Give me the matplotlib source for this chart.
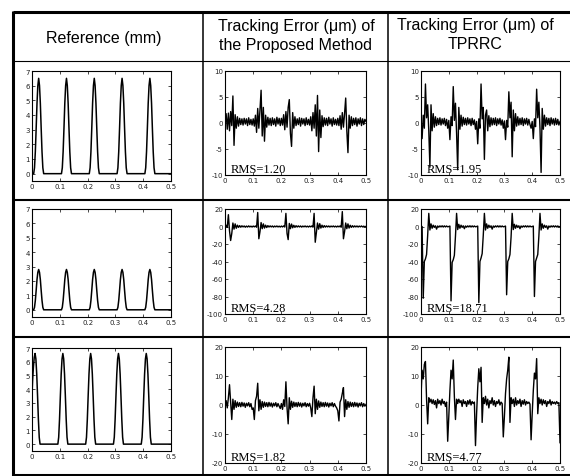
import numpy as np
import matplotlib.pyplot as plt
from matplotlib.lines import Line2D

plt.rcParams['axes.unicode_minus'] = False

# ---- data ----
headers = ['Reference (mm)',
           'Tracking Error (\u03bcm) of\nthe Proposed Method',
           'Tracking Error (\u03bcm) of\nTPRRC']

x_ticks = [0, 0.1, 0.2, 0.3, 0.4, 0.5]
x_tick_labels = ['0', '0.1', '0.2', '0.3', '0.4', '0.5']
ref_yticks = [0, 1, 2, 3, 4, 5, 6, 7]
err_yticks = [[-10, -5, 0, 5, 10],
              [-100, -80, -60, -40, -20, 0, 20],
              [-20, -10, 0, 10, 20]]
rms_proposed = ['1.20', '4.28', '1.82']
rms_tprrc = ['1.95', '18.71', '4.77']

# reference trajectories (time, mm)
ref_t_1 = [0.000, 0.006, 0.009, 0.012, 0.015, 0.018, 0.021, 0.024, 0.027, 0.030, 0.033, 0.036, 0.039, 0.042,
           0.106, 0.109, 0.112, 0.115, 0.118, 0.121, 0.124, 0.127, 0.130, 0.133, 0.136, 0.139, 0.142,
           0.206, 0.209, 0.212, 0.215, 0.218, 0.221, 0.224, 0.227, 0.230, 0.233, 0.236, 0.239, 0.242,
           0.306, 0.309, 0.312, 0.315, 0.318, 0.321, 0.324, 0.327, 0.330, 0.333, 0.336, 0.339, 0.342,
           0.406, 0.409, 0.412, 0.415, 0.418, 0.421, 0.424, 0.427, 0.430, 0.433, 0.436, 0.439, 0.442, 0.500]
ref_v_1 = [0.0, 0.0, 0.4, 1.5, 3.1, 4.8, 6.0, 6.5, 6.0, 4.8, 3.1, 1.5, 0.4, 0.0,
           0.0, 0.4, 1.5, 3.1, 4.8, 6.0, 6.5, 6.0, 4.8, 3.1, 1.5, 0.4, 0.0,
           0.0, 0.4, 1.5, 3.1, 4.8, 6.0, 6.5, 6.0, 4.8, 3.1, 1.5, 0.4, 0.0,
           0.0, 0.4, 1.5, 3.1, 4.8, 6.0, 6.5, 6.0, 4.8, 3.1, 1.5, 0.4, 0.0,
           0.0, 0.4, 1.5, 3.1, 4.8, 6.0, 6.5, 6.0, 4.8, 3.1, 1.5, 0.4, 0.0, 0.0]
ref_t_2 = ref_t_1
ref_v_2 = [0.0, 0.0, 0.17, 0.65, 1.35, 2.1, 2.6, 2.8, 2.6, 2.1, 1.35, 0.65, 0.17, 0.0,
           0.0, 0.17, 0.65, 1.35, 2.1, 2.6, 2.8, 2.6, 2.1, 1.35, 0.65, 0.17, 0.0,
           0.0, 0.17, 0.65, 1.35, 2.1, 2.6, 2.8, 2.6, 2.1, 1.35, 0.65, 0.17, 0.0,
           0.0, 0.17, 0.65, 1.35, 2.1, 2.6, 2.8, 2.6, 2.1, 1.35, 0.65, 0.17, 0.0,
           0.0, 0.17, 0.65, 1.35, 2.1, 2.6, 2.8, 2.6, 2.1, 1.35, 0.65, 0.17, 0.0, 0.0]
ref_t_3 = [0.000, 0.002, 0.005, 0.008, 0.011, 0.014, 0.017, 0.020, 0.023, 0.026, 0.029,
           0.093, 0.096, 0.099, 0.102, 0.105, 0.108, 0.111, 0.114, 0.117, 0.120, 0.123, 0.126, 0.129,
           0.193, 0.196, 0.199, 0.202, 0.205, 0.208, 0.211, 0.214, 0.217, 0.220, 0.223, 0.226, 0.229,
           0.293, 0.296, 0.299, 0.302, 0.305, 0.308, 0.311, 0.314, 0.317, 0.320, 0.323, 0.326, 0.329,
           0.393, 0.396, 0.399, 0.402, 0.405, 0.408, 0.411, 0.414, 0.417, 0.420, 0.423, 0.426, 0.429, 0.500]
ref_v_3 = [3.5, 4.6, 5.6, 6.3, 6.6, 6.2, 5.1, 3.5, 1.8, 0.5, 0.0,
           0.0, 0.5, 1.8, 3.5, 5.1, 6.2, 6.6, 6.2, 5.1, 3.5, 1.8, 0.5, 0.0,
           0.0, 0.5, 1.8, 3.5, 5.1, 6.2, 6.6, 6.2, 5.1, 3.5, 1.8, 0.5, 0.0,
           0.0, 0.5, 1.8, 3.5, 5.1, 6.2, 6.6, 6.2, 5.1, 3.5, 1.8, 0.5, 0.0,
           0.0, 0.5, 1.8, 3.5, 5.1, 6.2, 6.6, 6.2, 5.1, 3.5, 1.8, 0.5, 0.0, 0.0]

# tracking errors, sampled every 4 ms from 0 to 0.5 s (um)
prop_err_1 = [0.0, 1.8, -1.2, 1.9, -1.5, 2.2, -0.5, 5.2, -4.3, 1.6, -1.0, 1.2, -0.6, 0.9, -0.3, 0.8, -0.4, 0.9, -0.2, 0.8, -0.5, 1.0, -0.3, 0.7, -0.4,
              0.8, -0.6, 1.5, -1.8, 2.8, -1.0, 2.5, 6.3, -2.5, 3.0, -3.5, 1.5, -0.8, 1.1, -0.4, 0.9, -0.5, 1.0, -0.3, 0.8, -0.6, 1.1, -0.2, 0.9, -0.5,
              0.9, -0.4, 1.6, -1.3, 2.2, -0.8, 3.0, 4.5, -2.0, -4.5, 2.0, -1.0, 1.2, -0.5, 0.8, -0.3, 1.0, -0.6, 0.9, -0.2, 0.8, -0.5, 1.0, -0.3, 0.7,
              -0.4, 1.2, -1.5, 2.0, -1.0, 3.5, -2.5, 5.3, -5.5, 2.5, -2.8, 1.4, -0.7, 1.0, -0.4, 0.9, -0.5, 1.1, -0.2, 0.8, -0.6, 1.0, -0.3, 0.7, -0.4,
              0.9, -0.5, 1.4, -1.2, 2.0, -0.8, 1.8, 4.8, -1.5, -5.7, 1.5, -1.0, 1.2, -0.5, 0.9, -0.3, 1.0, -0.6, 0.8, -0.2, 1.0, -0.5, 0.8, -0.3, 0.7,
              0.3]
tprrc_err_1 = [0.0, -3.0, 1.5, -1.0, 7.5, 1.0, 3.5, -1.5, -8.5, 3.5, -1.5, 1.8, -0.8, 1.2, -0.5, 0.9, -0.3, 1.0, -0.4, 0.8, -0.2, 0.9, -0.5, 0.7, -1.0,
               0.5, -3.2, 1.2, -0.5, 7.0, 0.5, 3.8, -2.0, -9.0, 3.0, -1.2, 1.5, -0.6, 1.1, -0.3, 0.9, -0.4, 1.0, -0.2, 0.8, -0.5, 0.9, -0.3, 0.6, -1.2,
               0.3, -4.0, 0.8, -1.0, 7.5, 0.8, 3.0, -7.0, 1.5, 2.5, -1.5, 1.4, -0.7, 1.0, -0.4, 0.9, -0.3, 1.0, -0.5, 0.8, -0.2, 0.9, -0.4, 0.6, -1.0,
               0.4, -3.2, 0.5, -0.8, 6.0, 1.0, 4.0, -6.5, 2.5, -1.5, 1.8, -0.6, 1.2, -0.4, 0.9, -0.3, 1.0, -0.5, 0.8, -0.2, 0.9, -0.4, 0.7, -0.3, -1.0,
               0.3, -3.0, 0.8, -0.7, 6.5, 1.0, 4.0, -1.0, -9.5, 2.8, -1.2, 1.5, -0.6, 1.0, -0.3, 0.9, -0.5, 1.0, -0.2, 0.8, -0.4, 0.9, -0.3, 0.7, -0.4,
               0.3]
prop_err_2 = [0.0, 1.5, -1.0, 13.5, -5.0, -16.0, -8.0, 4.0, -3.0, 3.0, -2.0, 1.5, -1.0, 1.0, -0.8, 0.8, -0.5, 0.6, -0.8, 0.5, -0.6, 0.7, -0.5, 0.4, -0.6,
              0.5, -0.4, 0.6, -0.8, 16.0, -14.0, -6.0, 4.5, -2.5, 3.0, -1.8, 1.5, -1.2, 1.0, -0.6, 0.7, -0.5, 0.6, -0.7, 0.5, -0.4, 0.6, -0.5, 0.4, -0.6,
              0.5, -0.5, 0.7, -0.6, 15.0, -8.0, -15.0, 3.5, -2.5, 2.8, -1.5, 1.4, -1.0, 0.9, -0.6, 0.7, -0.5, 0.6, -0.7, 0.5, -0.4, 0.6, -0.5, 0.4, -0.6,
              0.5, -0.4, 0.6, -0.7, 15.0, -18.0, -7.0, 4.0, -3.0, 3.2, -1.8, 1.5, -1.1, 1.0, -0.7, 0.7, -0.5, 0.6, -0.6, 0.5, -0.4, 0.6, -0.5, 0.4, -0.6,
              0.5, -0.4, 0.6, -0.8, 17.0, -14.0, -6.0, 4.0, -2.5, 3.0, -1.8, 1.4, -1.0, 0.9, -0.7, 0.7, -0.5, 0.6, -0.6, 0.5, -0.4, 0.6, -0.5, 0.4, -0.5,
              0.2]
tprrc_err_2 = [0.0, 0.0, -82.0, -40.0, -37.0, -32.0, -10.0, 15.0, -4.0, 3.0, -2.0, 1.5, -1.0, 0.8, -3.0, 0.6, -0.8, 0.7, -0.5, 0.8, -0.6, 0.7, -0.5, 0.6, -0.4,
               0.0, 0.5, -85.0, -41.0, -38.0, -33.0, -11.0, 15.0, -3.5, 2.5, -2.0, 1.5, -1.0, 0.8, -2.5, 0.6, -0.8, 0.7, -0.5, 0.8, -0.6, 0.7, -0.5, 0.6, -0.4,
               0.0, 0.5, -87.0, -40.0, -36.0, -31.0, -10.0, 15.0, -4.0, 3.0, -2.0, 1.5, -1.0, 0.8, -3.0, 0.6, -0.8, 0.7, -0.5, 0.8, -0.6, 0.7, -0.5, 0.6, -0.4,
               0.0, 0.5, -78.0, -40.0, -37.0, -32.0, -12.0, 15.0, -3.5, 2.5, -2.0, 1.5, -1.0, 0.8, -2.5, 0.6, -0.8, 0.7, -0.5, 0.8, -0.6, 0.7, -0.5, 0.6, -0.4,
               0.0, 0.5, -80.0, -40.0, -36.0, -32.0, -11.0, 15.0, -4.0, 3.0, -2.0, 1.5, -1.0, 0.8, -3.0, 0.6, -0.8, 0.7, -0.5, 0.8, -0.6, 0.7, -0.5, 0.6, -0.4,
               0.0]
prop_err_3 = [0.0, 1.5, -1.0, 2.5, 7.0, 1.0, -5.0, 2.0, -1.5, 1.5, -0.8, 1.0, -0.5, 0.8, -0.6, 0.9, -0.4, 0.7, -0.8, 0.6, -0.3, 0.8, -0.6, 0.5, -1.5,
              -1.0, -5.0, 1.5, 3.0, 7.5, -2.0, 1.8, -1.5, 1.2, -0.8, 1.0, -0.5, 0.8, -0.6, 0.9, -0.4, 0.7, -0.7, 0.6, -0.3, 0.8, -0.6, 0.5, -0.4, -1.2,
              0.5, -1.5, 1.8, -0.5, 8.0, -1.0, -6.5, 2.5, -1.5, 1.3, -0.8, 1.0, -0.5, 0.8, -0.6, 0.9, -0.4, 0.7, -0.7, 0.6, -0.3, 0.8, -0.6, 0.5, -0.4,
              0.6, -1.0, -4.0, 2.5, 6.5, -3.0, 2.0, -1.5, 1.4, -0.8, 1.0, -0.5, 0.8, -0.6, 0.9, -0.4, 0.7, -0.7, 0.6, -0.3, 0.8, -0.6, 0.5, -0.4, -1.0,
              -2.0, -5.5, 1.0, 2.0, 4.0, 6.0, -4.0, 1.8, -1.5, 1.2, -0.8, 1.0, -0.5, 0.8, -0.6, 0.9, -0.4, 0.7, -0.7, 0.6, -0.3, 0.8, -0.6, 0.5, -0.4,
              0.2]
tprrc_err_3 = [3.0, 12.0, 9.0, 14.0, 15.0, 2.0, -6.5, 2.5, 1.0, 2.0, 0.5, 1.8, 0.2, 1.5, -1.0, 2.0, 0.5, 1.5, 0.0, 2.0, 0.5, 1.2, -0.5, 1.0, -12.5,
               -4.0, 5.0, 12.0, 9.0, 15.5, 3.0, -5.0, 2.0, 0.5, 2.0, 0.8, 1.5, -0.5, 1.8, 0.5, 1.2, -0.5, 1.5, 0.3, 1.8, 0.0, 1.2, 0.5, 1.0, -14.0,
               -3.0, 6.0, 12.5, 8.0, 13.0, -6.0, 2.5, 0.5, 3.0, 0.0, 2.0, -1.0, 1.5, 0.5, 2.5, 0.0, 1.5, -0.5, 1.2, 0.5, 1.8, 0.0, 1.0, 0.5, -11.0,
               -4.0, 4.0, 9.0, 12.0, 16.5, -6.0, 2.5, 0.5, 2.0, -0.5, 2.5, 0.0, 1.5, 0.5, 2.0, -0.5, 1.5, 0.3, 1.8, 0.0, 1.2, 0.5, 1.0, 0.3, -12.0,
               -3.0, 5.0, 11.0, 9.0, 16.0, -3.0, 2.5, 0.5, 2.0, 0.0, 1.8, 0.5, 1.5, -0.5, 1.2, 0.5, 1.8, 0.0, 1.2, 0.5, 1.0, 0.3, 1.2, 0.5, 0.8,
               -13.0]

t_err = np.linspace(0, 0.5, len(prop_err_1))

# ---- layout (pixels) ----
W, H = 570, 477
fig = plt.figure(figsize=(W / 100, H / 100), dpi=100)
fig.patch.set_facecolor('white')


def px_axes(l, t, r, b):
    return fig.add_axes([l / W, 1 - b / H, (r - l) / W, (b - t) / H])


def px_line(x0, y0, x1, y1, lw):
    fig.add_artist(Line2D([x0 / W, x1 / W], [1 - y0 / H, 1 - y1 / H],
                          transform=fig.transFigure, color='black', lw=lw,
                          solid_capstyle='butt'))


def style(ax, ylim, yticks):
    ax.set_xlim(0, 0.5)
    ax.set_ylim(*ylim)
    ax.set_xticks(x_ticks)
    ax.set_xticklabels(x_tick_labels)
    ax.set_yticks(yticks)
    ax.set_yticklabels([str(v) for v in yticks])
    ax.tick_params(direction='in', length=2, width=0.5, labelsize=5,
                   labelcolor='#222222', pad=1.5, top=True, right=True)
    for s in ax.spines.values():
        s.set_linewidth(0.8)


# table grid
px_line(13, 13, 575, 13, 2.2)
px_line(13, 12, 13, 477, 2.2)
px_line(13, 62, 575, 62, 0.8)
px_line(13, 201, 575, 201, 1.5)
px_line(13, 338, 575, 338, 1.5)
px_line(13, 476, 575, 476, 2.2)
px_line(203, 13, 203, 477, 1.1)
px_line(388, 13, 388, 477, 1.1)

hfont = dict(family=['Liberation Sans', 'DejaVu Sans'], fontsize=11.5,
             ha='center', va='center', linespacing=1.35)
fig.text(104 / W, 1 - 38 / H, headers[0], **hfont)
fig.text(296 / W, 1 - 36 / H, headers[1], **hfont)
fig.text(475 / W, 1 - 35 / H, headers[2], **hfont)

col_x = [(32, 171), (225, 366), (421, 560)]
ref_rows = [(72, 182), (210, 318), (349, 452)]
err_rows = [(72, 176), (210, 315), (348, 464)]
err_ylims = [(-10, 10), (-100, 20), (-20, 20)]

ref_series = [(ref_t_1, ref_v_1), (ref_t_2, ref_v_2), (ref_t_3, ref_v_3)]
prop_series = [prop_err_1, prop_err_2, prop_err_3]
tprrc_series = [tprrc_err_1, tprrc_err_2, tprrc_err_3]

for i in range(3):
    top, bot = ref_rows[i]
    ax = px_axes(col_x[0][0], top, col_x[0][1], bot)
    ax.plot(ref_series[i][0], ref_series[i][1], color='black', lw=1.1)
    style(ax, (-0.5, 7), ref_yticks)

    top, bot = err_rows[i]
    for c, series, rms in [(1, prop_series, rms_proposed), (2, tprrc_series, rms_tprrc)]:
        ax = px_axes(col_x[c][0], top, col_x[c][1], bot)
        ax.plot(t_err, series[i], color='black', lw=1.0)
        style(ax, err_ylims[i], err_yticks[i])
        ax.text(0.04, 0.0, 'RMS=' + rms[i], transform=ax.transAxes,
                family=['Liberation Serif', 'DejaVu Serif'], fontsize=9,
                ha='left', va='bottom')

fig.savefig('out.png', dpi=100)
